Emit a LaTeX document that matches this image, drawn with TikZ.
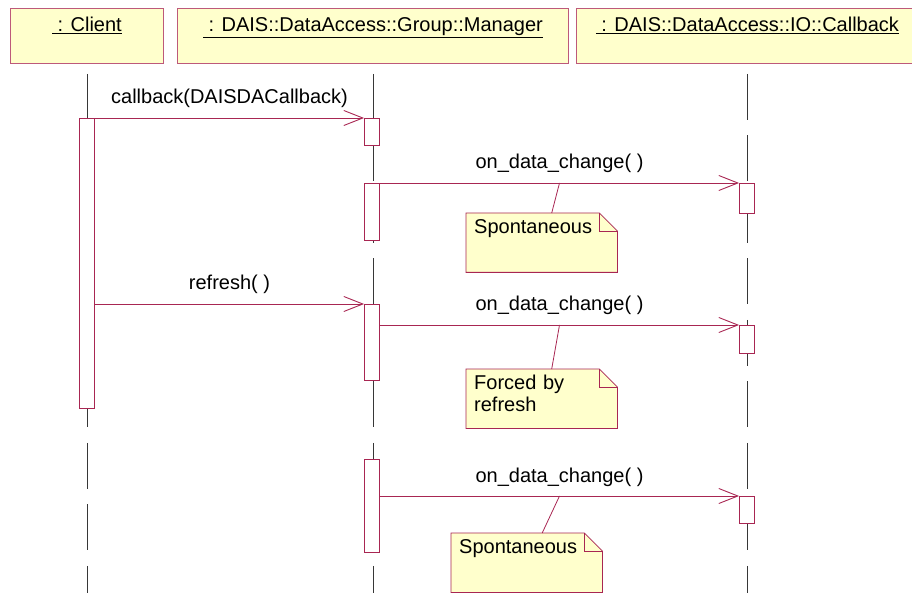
\documentclass[tikz,border=0pt]{standalone}
\usepackage{fontspec}
\setmainfont{Liberation Sans}
\usetikzlibrary{arrows.meta,backgrounds}

\definecolor{rosered}{RGB}{153,0,51}
\definecolor{paleyellow}{RGB}{255,255,204}
\definecolor{lifegray}{RGB}{55,55,55}

\tikzset{
  object/.style={draw=rosered!65, fill=paleyellow, line width=0.9pt, anchor=north west,
    minimum height=55pt, inner sep=5pt, text height=18pt, text depth=27pt},
  activation/.style={draw=rosered!85, fill=white, line width=0.9pt, anchor=north,
    minimum width=15pt, inner sep=0pt},
  lifeline/.style={lifegray, line width=0.8pt, dash pattern=on 46pt off 15.5pt},
  message/.style={rosered!85, line width=0.8pt, ->},
  msglabel/.style={midway, anchor=base, yshift=14pt, text=black},
  note/.style={anchor=north west, minimum width=151pt, minimum height=59pt, inner xsep=8pt,
    inner ysep=5pt, text width=135pt, align=left, text height=15pt, text depth=34pt},
  noteline/.style={rosered!85, line width=0.8pt},
}

\begin{document}
\begin{tikzpicture}[x=1pt,y=-1pt,>={Straight Barb[length=19pt,width=15pt,line width=0.9pt]},
  font=\fontsize{20}{22}\selectfont]

    \useasboundingbox (0,0) rectangle (912,593);
    \clip (0,0) rectangle (912,593);

    % Coordonnees utiles
    \coordinate (bottom) at (0,593);

    % Les objets en tete
    \node[object, minimum width=153pt] (client) at (10,8) {\underline{\ : Client}};
    \node[object, minimum width=391pt] (manager) at (177,8) {\underline{\ : DAIS::DataAccess::Group::Manager}};
    \node[object, minimum width=342pt] (io) at (576,8) {\underline{\ : DAIS::DataAccess::IO::Callback}};

    % Les lignes de vie
    \draw[lifeline] ([yshift=-10pt]client.south) -- (client.south |- bottom);
    \draw[lifeline] ([yshift=-10pt]manager.south) -- (manager.south |- bottom);
    \draw[lifeline] ([yshift=-10pt]io.south) -- (io.south |- bottom);

    % Les activations
    \node[activation, minimum height=290pt] (cact) at (87,118) {};
    \node[activation, minimum height=27pt] (mact1) at (372,118) {};
    \node[activation, minimum height=57pt] (mact2) at (372,183) {};
    \node[activation, minimum height=76pt] (mact3) at (372,304) {};
    \node[activation, minimum height=93pt] (mact4) at (372,459) {};
    \node[activation, minimum height=30pt] (iact1) at (747,183) {};
    \node[activation, minimum height=28pt] (iact2) at (747,325) {};
    \node[activation, minimum height=27pt] (iact3) at (747,496) {};

    % Les messages
    \draw[message] (cact.north east) -- (mact1.north west) node[msglabel] {callback(DAISDACallback)};
    \draw[message] (mact2.north east) -- (iact1.north west) node[msglabel] {on\_data\_change( )} coordinate[midway] (m1);
    \draw[message] (cact.east |- mact3.north) -- (mact3.north west) node[msglabel] {refresh( )};
    \draw[message] (mact3.east |- iact2.north) -- (iact2.north west) node[msglabel] {on\_data\_change( )} coordinate[midway] (m2);
    \draw[message] (mact4.east |- iact3.north) -- (iact3.north west) node[msglabel] {on\_data\_change( )} coordinate[midway] (m3);

    % Les notes
    \node[note] (note1) at (466,213) {Spontaneous};
    \node[note] (note2) at (466,369) {Forced by\\refresh};
    \node[note] (note3) at (451,533) {Spontaneous};

    \begin{scope}[on background layer]
    \foreach \n in {note1,note2,note3}{
        \draw[noteline, fill=paleyellow] (\n.north west) -- ([xshift=-18pt]\n.north east)
            -- ([yshift=-18pt]\n.north east) -- (\n.south east) -- (\n.south west) -- cycle;
        \draw[noteline] ([xshift=-18pt]\n.north east) -- ([xshift=-18pt,yshift=-18pt]\n.north east)
            -- ([yshift=-18pt]\n.north east);
    }
    \end{scope}

    % Relier les notes aux messages
    \draw[noteline] (m1) -- ([xshift=10pt]note1.north);
    \draw[noteline] (m2) -- ([xshift=10pt]note2.north);
    \draw[noteline] (m3) -- ([xshift=15.5pt]note3.north);
\end{tikzpicture}
\end{document}
